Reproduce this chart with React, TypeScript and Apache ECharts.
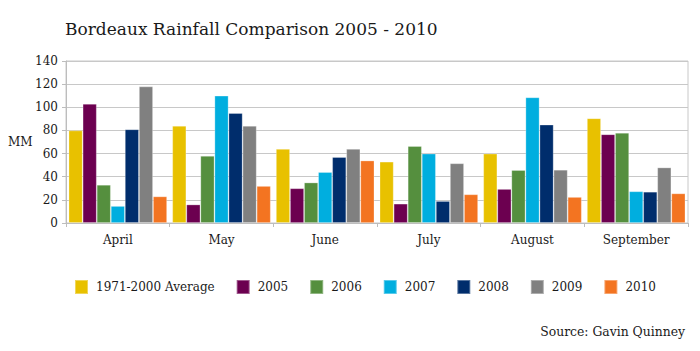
import React, { useEffect, useRef } from "react";
import * as echarts from "echarts";

const months = ["April", "May", "June", "July", "August", "September"];
const seriesNames = ["1971-2000 Average", "2005", "2006", "2007", "2008", "2009", "2010"];
const avg = [80, 84, 64, 53, 60, 90.5];
const y2005 = [103, 16, 30, 16.7, 29.4, 76.7];
const y2006 = [33, 58, 35, 66.5, 45.8, 78];
const y2007 = [14.7, 110, 44, 60, 108.6, 27.4];
const y2008 = [81, 95, 57, 19, 85, 27];
const y2009 = [118, 84, 64, 51.6, 46, 48];
const y2010 = [23, 32, 54, 24.8, 22.5, 25.6];
const colors = ["#E8C100", "#6C0050", "#558F3E", "#00AEDF", "#002D6C", "#808080", "#F37421"];

const FONT = "'DejaVu Serif', serif";

export default function App() {
  const ref = useRef<HTMLDivElement>(null);
  useEffect(() => {
    if (!ref.current) return;
    const chart = echarts.init(ref.current, null, { renderer: "svg" });
    const data = [avg, y2005, y2006, y2007, y2008, y2009, y2010];
    chart.setOption({
      animation: false,
      backgroundColor: "#ffffff",
      textStyle: { fontFamily: FONT },
      title: [
        {
          text: "Bordeaux Rainfall Comparison 2005 - 2010",
          left: 60,
          top: 15,
          textStyle: { fontFamily: FONT, fontSize: 17, fontWeight: "normal", color: "#1a1a1a" },
        },
        {
          text: "Source: Gavin Quinney",
          right: 10,
          top: 320,
          textStyle: { fontFamily: FONT, fontSize: 12.4, fontWeight: "normal", color: "#1a1a1a" },
        },
      ],
      graphic: [
        {
          type: "text",
          left: 8,
          top: 136,
          style: { text: "MM", fontFamily: FONT, fontSize: 12, fill: "#1a1a1a" },
        },
      ],
      legend: {
        data: seriesNames,
        left: 69,
        top: 274,
        itemWidth: 13,
        itemHeight: 14,
        itemGap: 21,
        icon: "rect",
        textStyle: { fontFamily: FONT, fontSize: 12, color: "#1a1a1a", padding: [0, 0, 0, 3] },
      },
      grid: {
        left: 66,
        right: 12,
        top: 61,
        bottom: 351 - 223,
        show: true,
        borderColor: "#c8c8c8",
        borderWidth: 1,
      },
      xAxis: {
        type: "category",
        data: months,
        axisLine: { lineStyle: { color: "#bdbdbd" } },
        axisTick: { show: true, length: 4, lineStyle: { color: "#bdbdbd" } },
        axisLabel: { fontFamily: FONT, fontSize: 12, color: "#1a1a1a", margin: 11 },
      },
      yAxis: {
        type: "value",
        min: 0,
        max: 140,
        interval: 20,
        axisLine: { show: true, lineStyle: { color: "#bdbdbd" } },
        axisTick: { show: true, length: 4, lineStyle: { color: "#bdbdbd" } },
        axisLabel: { fontFamily: FONT, fontSize: 12, color: "#1a1a1a", margin: 8 },
        splitLine: { lineStyle: { color: "#c8c8c8" } },
      },
      series: seriesNames.map((name, i) => ({
        name,
        type: "bar",
        data: data[i],
        barGap: "0%",
        barCategoryGap: "5%",
        itemStyle: { color: colors[i], borderColor: "rgba(255,255,255,0.35)", borderWidth: 0.8 },
      })),
    });
    return () => chart.dispose();
  }, []);
  return <div ref={ref} style={{ width: 700, height: 351, position: "absolute", left: 0, top: 0 }} />;
}
